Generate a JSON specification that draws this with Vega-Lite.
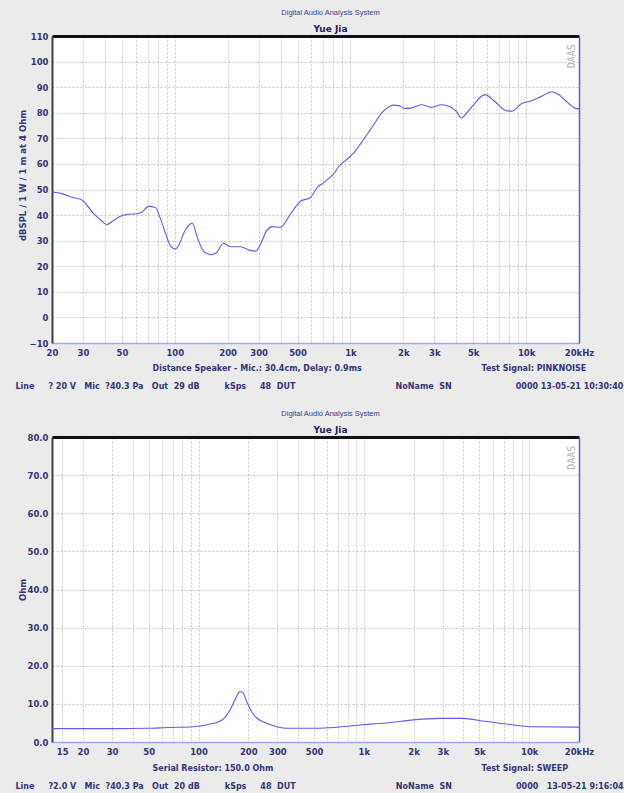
{
  "$schema": "https://vega.github.io/schema/vega-lite/v6.json",
  "background": "#ebebeb",
  "padding": {"left": 15, "top": 8, "right": 0, "bottom": 4},
  "spacing": 19,
  "config": {
    "font": "DejaVu Sans",
    "view": {"stroke": null, "fill": "white"},
    "axis": {
      "labelFont": "DejaVu Sans", "labelFontSize": 8.5, "labelFontWeight": "bold", "labelColor": "#34347a",
      "titleFont": "DejaVu Sans", "titleFontSize": 8, "titleFontWeight": "bold", "titleColor": "#34347a",
      "ticks": false, "gridColor": "#c4c4c4", "gridDash": [2, 2], "gridWidth": 1
    }
  },
  "datasets": {
    "spl": [
      {"freq": 20, "db": 49}, {"freq": 23, "db": 48.3}, {"freq": 26, "db": 47}, {"freq": 29.6, "db": 45.9},
      {"freq": 34.4, "db": 40.7}, {"freq": 38, "db": 38}, {"freq": 41, "db": 36.3}, {"freq": 45, "db": 38},
      {"freq": 49, "db": 39.5}, {"freq": 54.6, "db": 40.3}, {"freq": 61, "db": 40.5}, {"freq": 65, "db": 41.2},
      {"freq": 71, "db": 43.4}, {"freq": 77.6, "db": 43}, {"freq": 82.8, "db": 38.7}, {"freq": 88.6, "db": 32.8},
      {"freq": 94.4, "db": 28}, {"freq": 101, "db": 26.8}, {"freq": 106, "db": 28.5}, {"freq": 112.5, "db": 33},
      {"freq": 120, "db": 36}, {"freq": 125.7, "db": 36.8}, {"freq": 134, "db": 31.5}, {"freq": 146.6, "db": 25.7},
      {"freq": 160, "db": 24.5}, {"freq": 173, "db": 25.3}, {"freq": 181, "db": 27.5}, {"freq": 189, "db": 29},
      {"freq": 198, "db": 28.3}, {"freq": 208, "db": 27.6}, {"freq": 237, "db": 27.6}, {"freq": 265, "db": 26.3},
      {"freq": 289, "db": 25.9}, {"freq": 309, "db": 28.9}, {"freq": 334, "db": 34}, {"freq": 360, "db": 35.5},
      {"freq": 398, "db": 35.2}, {"freq": 458, "db": 40.7}, {"freq": 522, "db": 45.5}, {"freq": 590, "db": 46.8},
      {"freq": 651, "db": 51}, {"freq": 700, "db": 52.5}, {"freq": 743, "db": 54}, {"freq": 800, "db": 56},
      {"freq": 865, "db": 59.3}, {"freq": 944, "db": 61.5}, {"freq": 1050, "db": 64.5}, {"freq": 1151, "db": 68.2},
      {"freq": 1313, "db": 73.9}, {"freq": 1531, "db": 80.4}, {"freq": 1747, "db": 83}, {"freq": 1900, "db": 82.7},
      {"freq": 2037, "db": 81.7}, {"freq": 2200, "db": 81.8}, {"freq": 2535, "db": 83.1}, {"freq": 2891, "db": 82.1},
      {"freq": 3297, "db": 83.1}, {"freq": 3680, "db": 82.3}, {"freq": 4000, "db": 80.5}, {"freq": 4289, "db": 78},
      {"freq": 4600, "db": 80}, {"freq": 5002, "db": 83}, {"freq": 5832, "db": 87.1}, {"freq": 6650, "db": 84.3},
      {"freq": 7585, "db": 81}, {"freq": 8280, "db": 80.6}, {"freq": 9443, "db": 83.6}, {"freq": 10537, "db": 84.5},
      {"freq": 12291, "db": 86.5}, {"freq": 14017, "db": 88.2}, {"freq": 15320, "db": 87.1}, {"freq": 17470, "db": 83.6},
      {"freq": 19060, "db": 81.7}, {"freq": 20000, "db": 81.5}
    ],
    "imp": [
      {"freq": 13, "ohm": 3.5}, {"freq": 30, "ohm": 3.5}, {"freq": 50, "ohm": 3.6}, {"freq": 65, "ohm": 3.8},
      {"freq": 93, "ohm": 4.0}, {"freq": 114, "ohm": 4.6}, {"freq": 130, "ohm": 5.2}, {"freq": 141, "ohm": 6.0},
      {"freq": 155, "ohm": 8.4}, {"freq": 168, "ohm": 11.5}, {"freq": 178, "ohm": 13.2}, {"freq": 186, "ohm": 12.8},
      {"freq": 197, "ohm": 10.3}, {"freq": 209, "ohm": 8.0}, {"freq": 225, "ohm": 6.3}, {"freq": 252, "ohm": 5.1},
      {"freq": 296, "ohm": 4.0}, {"freq": 348, "ohm": 3.6}, {"freq": 543, "ohm": 3.6}, {"freq": 824, "ohm": 4.2},
      {"freq": 1100, "ohm": 4.7}, {"freq": 1442, "ohm": 5.1}, {"freq": 1990, "ohm": 5.8}, {"freq": 2882, "ohm": 6.2},
      {"freq": 3986, "ohm": 6.2}, {"freq": 5264, "ohm": 5.5}, {"freq": 7627, "ohm": 4.6}, {"freq": 10523, "ohm": 4.0},
      {"freq": 20000, "ohm": 3.9}
    ],
    "brand": [{"t": "DAAS"}]
  },
  "vconcat": [
    {
      "width": 527,
      "height": 307,
      "title": {
        "text": "Digital Audio Analysis System",
        "subtitle": "\u00a0\u00a0\u00a0\u00a0\u00a0\u00a0\u00a0\u00a0\u00a0\u00a0Yue Jia",
        "font": "Liberation Sans", "fontSize": 7.5, "fontWeight": "normal", "color": "#3c3c8c",
        "subtitleFont": "DejaVu Sans", "subtitleFontSize": 9, "subtitleFontWeight": "bold", "subtitleColor": "#1f1f5c",
        "subtitlePadding": 9, "offset": -2, "anchor": "middle", "dx": 15
      },
      "layer": [
        {
          "data": {"name": "spl"},
          "mark": {"type": "line", "color": "#5b5bf5", "strokeWidth": 1.1, "interpolate": "monotone"},
          "encoding": {
            "x": {
              "field": "freq", "type": "quantitative",
              "scale": {"type": "log", "domain": [20, 20000], "nice": false},
              "axis": {
                "orient": "bottom",
                "values": [20, 30, 40, 50, 60, 70, 80, 90, 100, 200, 300, 400, 500, 600, 700, 800, 900, 1000, 2000, 3000, 4000, 5000, 6000, 7000, 8000, 9000, 10000, 20000],
                "labelExpr": "datum.value === 20000 ? '20kHz' : (indexof([20,30,50,100,200,300,500], datum.value) >= 0 ? '' + datum.value : (indexof([1000,2000,3000,5000,10000], datum.value) >= 0 ? (datum.value / 1000) + 'k' : ''))",
                "labelOverlap": false, "labelFlush": false, "labelBound": false, "labelPadding": 5,
                "domainColor": "#9fa6ff", "domainWidth": 1.5,
                "title": "Line\u00a0\u00a0\u00a0\u00a0\u00a0? 20 V\u00a0\u00a0\u00a0Mic\u00a0\u00a0?40.3 Pa\u00a0\u00a0\u00a0Out\u00a0\u00a029 dB\u00a0\u00a0\u00a0\u00a0\u00a0\u00a0\u00a0\u00a0\u00a0kSps\u00a0\u00a0\u00a0\u00a0\u00a048\u00a0\u00a0DUT\u00a0\u00a0\u00a0\u00a0\u00a0\u00a0\u00a0\u00a0\u00a0\u00a0\u00a0\u00a0\u00a0\u00a0\u00a0\u00a0\u00a0\u00a0\u00a0\u00a0\u00a0\u00a0\u00a0\u00a0\u00a0\u00a0\u00a0\u00a0\u00a0\u00a0\u00a0\u00a0\u00a0\u00a0\u00a0\u00a0NoName\u00a0\u00a0SN\u00a0\u00a0\u00a0\u00a0\u00a0\u00a0\u00a0\u00a0\u00a0\u00a0\u00a0\u00a0\u00a0\u00a0\u00a0\u00a0\u00a0\u00a0\u00a0\u00a0\u00a0\u00a0\u00a00000\u00a013-05-21 10:30:40",
                "titleX": -37, "titleY": 43, "titleAlign": "left", "titleAnchor": "start", "titleBaseline": "middle"
              }
            },
            "y": {
              "field": "db", "type": "quantitative",
              "scale": {"domain": [-10, 110], "nice": false, "zero": false},
              "axis": {
                "orient": "left",
                "values": [-10, 0, 10, 20, 30, 40, 50, 60, 70, 80, 90, 100, 110],
                "labelPadding": 4, "minExtent": 22, "maxExtent": 22,
                "domainColor": "#404040", "domainWidth": 2,
                "title": "dBSPL / 1 W / 1 m at 4 Ohm", "titleFontSize": 8.5, "titlePadding": 3, "titleY": 139
              }
            }
          }
        },
        {
          "data": {"name": "brand"},
          "mark": {"type": "text", "angle": 270, "align": "left", "baseline": "middle", "font": "DejaVu Sans Mono", "fontSize": 10, "color": "#b4b4b4"},
          "encoding": {
            "text": {"field": "t"},
            "x": {
              "datum": 18200, "type": "quantitative",
              "axis": {
                "orient": "top", "labels": false, "grid": false, "domainColor": "#111111", "domainWidth": 3,
                "title": "Distance Speaker - Mic.: 30.4cm, Delay: 0.9ms",
                "titleX": 100, "titleY": 332, "titleAlign": "left", "titleAnchor": "start", "titleBaseline": "middle"
              }
            },
            "y": {
              "datum": 97.4, "type": "quantitative",
              "axis": {
                "orient": "right", "labels": false, "grid": false, "domainColor": "#6262c8", "domainWidth": 1.5,
                "title": "Test Signal: PINKNOISE", "titleAngle": 0,
                "titleX": -98, "titleY": 332, "titleAlign": "left", "titleAnchor": "start", "titleBaseline": "middle"
              }
            }
          }
        }
      ],
      "resolve": {"axis": {"x": "independent", "y": "independent"}}
    },
    {
      "width": 527,
      "height": 305,
      "title": {
        "text": "Digital Audio Analysis System",
        "subtitle": "\u00a0\u00a0\u00a0\u00a0\u00a0\u00a0\u00a0\u00a0\u00a0\u00a0Yue Jia",
        "font": "Liberation Sans", "fontSize": 7.5, "fontWeight": "normal", "color": "#3c3c8c",
        "subtitleFont": "DejaVu Sans", "subtitleFontSize": 9, "subtitleFontWeight": "bold", "subtitleColor": "#1f1f5c",
        "subtitlePadding": 9, "offset": -2, "anchor": "middle", "dx": 15
      },
      "layer": [
        {
          "data": {"name": "imp"},
          "mark": {"type": "line", "color": "#5b5bf5", "strokeWidth": 1.1, "interpolate": "monotone"},
          "encoding": {
            "x": {
              "field": "freq", "type": "quantitative",
              "scale": {"type": "log", "domain": [13, 20000], "nice": false},
              "axis": {
                "orient": "bottom",
                "values": [15, 20, 30, 40, 50, 60, 70, 80, 90, 100, 200, 300, 400, 500, 600, 700, 800, 900, 1000, 2000, 3000, 4000, 5000, 6000, 7000, 8000, 9000, 10000, 20000],
                "labelExpr": "datum.value === 20000 ? '20kHz' : (indexof([15,20,30,50,100,200,300,500], datum.value) >= 0 ? '' + datum.value : (indexof([1000,2000,3000,5000,10000], datum.value) >= 0 ? (datum.value / 1000) + 'k' : ''))",
                "labelOverlap": false, "labelFlush": false, "labelBound": false, "labelPadding": 5,
                "domainColor": "#9fa6ff", "domainWidth": 1.5,
                "title": "Line\u00a0\u00a0\u00a0\u00a0\u00a0?2.0 V\u00a0\u00a0\u00a0Mic\u00a0\u00a0?40.3 Pa\u00a0\u00a0\u00a0Out\u00a0\u00a020 dB\u00a0\u00a0\u00a0\u00a0\u00a0\u00a0\u00a0\u00a0\u00a0kSps\u00a0\u00a0\u00a0\u00a0\u00a048\u00a0\u00a0DUT\u00a0\u00a0\u00a0\u00a0\u00a0\u00a0\u00a0\u00a0\u00a0\u00a0\u00a0\u00a0\u00a0\u00a0\u00a0\u00a0\u00a0\u00a0\u00a0\u00a0\u00a0\u00a0\u00a0\u00a0\u00a0\u00a0\u00a0\u00a0\u00a0\u00a0\u00a0\u00a0\u00a0\u00a0\u00a0\u00a0NoName\u00a0\u00a0SN\u00a0\u00a0\u00a0\u00a0\u00a0\u00a0\u00a0\u00a0\u00a0\u00a0\u00a0\u00a0\u00a0\u00a0\u00a0\u00a0\u00a0\u00a0\u00a0\u00a0\u00a0\u00a0\u00a00000\u00a0\u00a0\u00a013-05-21 9:16:04",
                "titleX": -37, "titleY": 44, "titleAlign": "left", "titleAnchor": "start", "titleBaseline": "middle"
              }
            },
            "y": {
              "field": "ohm", "type": "quantitative",
              "scale": {"domain": [0, 80], "nice": false},
              "axis": {
                "orient": "left",
                "values": [0, 10, 20, 30, 40, 50, 60, 70, 80], "format": ".1f",
                "labelPadding": 4, "minExtent": 22, "maxExtent": 22,
                "domainColor": "#404040", "domainWidth": 2,
                "title": "Ohm", "titleFontSize": 8.5, "titlePadding": 3
              }
            }
          }
        },
        {
          "data": {"name": "brand"},
          "mark": {"type": "text", "angle": 270, "align": "left", "baseline": "middle", "font": "DejaVu Sans Mono", "fontSize": 10, "color": "#b4b4b4"},
          "encoding": {
            "text": {"field": "t"},
            "x": {
              "datum": 18200, "type": "quantitative",
              "axis": {
                "orient": "top", "labels": false, "grid": false, "domainColor": "#111111", "domainWidth": 3,
                "title": "Serial Resistor: 150.0 Ohm",
                "titleX": 100, "titleY": 331, "titleAlign": "left", "titleAnchor": "start", "titleBaseline": "middle"
              }
            },
            "y": {
              "datum": 71.4, "type": "quantitative",
              "axis": {
                "orient": "right", "labels": false, "grid": false, "domainColor": "#6262c8", "domainWidth": 1.5,
                "title": "Test Signal: SWEEP", "titleAngle": 0,
                "titleX": -98, "titleY": 331, "titleAlign": "left", "titleAnchor": "start", "titleBaseline": "middle"
              }
            }
          }
        }
      ],
      "resolve": {"axis": {"x": "independent", "y": "independent"}}
    }
  ]
}
